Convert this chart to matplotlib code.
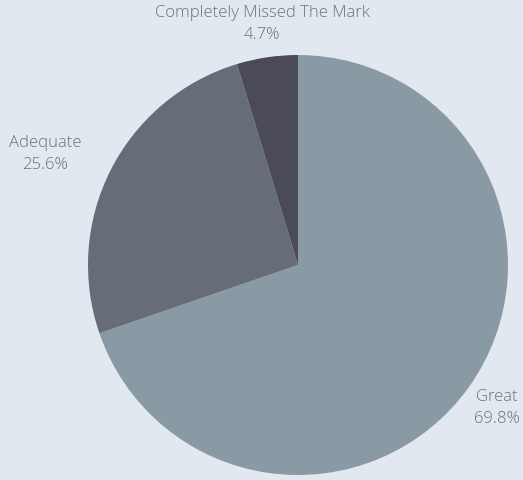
import matplotlib
matplotlib.use("Agg")
import matplotlib.pyplot as plt
import numpy as np

categories = ["Great", "Adequate", "Completely Missed The Mark"]
shares = [69.8, 25.6, 4.7]
colors = ["#8a9aa4", "#666c78", "#4a4a58"]

bg = "#e1e8f0"
text_color = "#6d717a"

fig = plt.figure(figsize=(5.23, 4.8), dpi=100, facecolor=bg)
W, H = 523, 480
cx, cy, r = 298, 265, 210
ax = fig.add_axes([(cx - r) / W, (H - cy - r) / H, 2 * r / W, 2 * r / H])
ax.set_facecolor(bg)
ax.pie(shares, colors=colors, startangle=90, counterclock=False,
       radius=1.0, wedgeprops=dict(linewidth=0))
ax.set_xlim(-1, 1)
ax.set_ylim(-1, 1)
ax.set_aspect("equal")
ax.axis("off")

# label anchors (pixel centres) for each slice
label_pos = [(497, 408), (45, 154), (262, 24)]
for name, val, (lx, ly) in zip(categories, shares, label_pos):
    fig.text(lx / W, 1 - ly / H, f"{name}\n{val}%", ha="center", va="center",
             fontsize=12, color=text_color, family=["Open Sans", "DejaVu Sans"],
             fontweight="light", linespacing=1.42)

fig.savefig("out.png", dpi=100, facecolor=bg)
